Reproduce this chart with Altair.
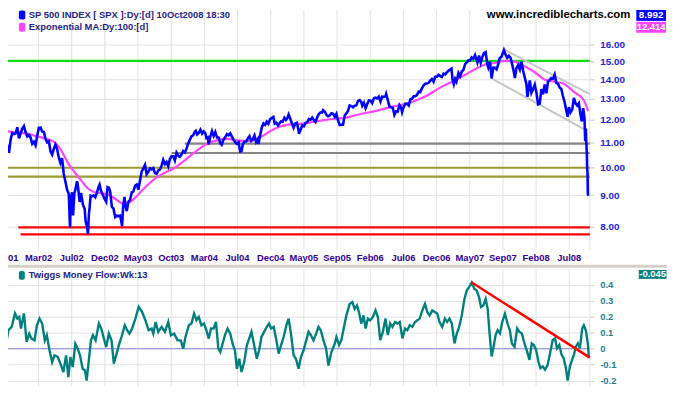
import altair as alt
import pandas as pd

# ---------------- data ----------------
TICK_BARS = [4, 104, 204, 304, 404, 504, 604, 704, 804, 904, 1004, 1104, 1204, 1304, 1404, 1504, 1604, 1704]
TICK_LABELS = ["Oct01", "Mar02", "Jul02", "Dec02", "May03", "Oct03", "Mar04", "Jul04", "Dec04",
               "May05", "Sep05", "Feb06", "Jul06", "Dec06", "May07", "Sep07", "Feb08", "Jul08"]
PRICE_TICKS = [8, 9, 10, 11, 12, 13, 14, 15, 16]
TMF_TICKS = [-0.2, -0.1, 0, 0.1, 0.2, 0.3, 0.4]

PRICE_BAR = [0, 5, 10, 15, 20, 25, 30, 35, 40, 45,
             50, 55, 60, 65, 70, 75, 80, 85, 90, 95,
             100, 105, 110, 115, 120, 125, 130, 135, 140, 145,
             150, 155, 160, 165, 170, 175, 180, 185, 190, 195,
             196, 198, 199, 200, 203, 205, 208, 212, 215, 220,
             222, 228, 232, 238, 243, 246, 250, 253, 256, 258,
             261, 265, 270, 275, 280, 285, 288, 292, 297, 302,
             308, 312, 316, 320, 325, 330, 335, 340, 345, 350,
             356, 359, 363, 366, 370, 375, 380, 385, 390, 395,
             400, 405, 410, 415, 420, 425, 430, 435, 440, 445,
             450, 455, 460, 465, 470, 475, 480, 485, 490, 495,
             500, 505, 510, 515, 520, 525, 530, 535, 540, 545,
             550, 555, 560, 565, 570, 575, 578, 582, 587, 592,
             597, 602, 607, 610, 614, 617, 622, 627, 632, 637,
             642, 647, 652, 656, 662, 667, 672, 677, 682, 687,
             692, 697, 702, 707, 712, 716, 720, 725, 730, 735,
             740, 745, 750, 755, 760, 765, 767, 772, 777, 782,
             787, 792, 797, 802, 807, 812, 816, 821, 826, 830,
             835, 840, 845, 850, 855, 858, 863, 868, 873, 878,
             883, 888, 889, 894, 899, 904, 909, 914, 919, 924,
             929, 934, 939, 944, 949, 954, 959, 962, 967, 972,
             977, 982, 987, 992, 997, 1002, 1007, 1012, 1017, 1022,
             1027, 1032, 1037, 1042, 1047, 1052, 1057, 1062, 1067, 1072,
             1077, 1080, 1085, 1090, 1095, 1100, 1105, 1110, 1115, 1120,
             1125, 1130, 1135, 1140, 1145, 1150, 1152, 1157, 1162, 1167,
             1172, 1177, 1182, 1187, 1192, 1197, 1200, 1205, 1210, 1215,
             1220, 1225, 1230, 1235, 1240, 1245, 1250, 1255, 1260, 1265,
             1270, 1275, 1280, 1285, 1290, 1295, 1300, 1305, 1310, 1315,
             1320, 1325, 1330, 1335, 1340, 1345, 1349, 1352, 1356, 1360,
             1364, 1370, 1375, 1380, 1385, 1390, 1395, 1400, 1405, 1410,
             1415, 1420, 1423, 1427, 1432, 1437, 1442, 1447, 1452, 1457,
             1460, 1465, 1470, 1475, 1480, 1485, 1490, 1494, 1500, 1507,
             1512, 1517, 1522, 1527, 1532, 1537, 1540, 1545, 1550, 1555,
             1560, 1565, 1570, 1575, 1578, 1582, 1585, 1590, 1595, 1600,
             1605, 1610, 1615, 1620, 1625, 1630, 1635, 1640, 1645, 1650,
             1655, 1660, 1665, 1670, 1675, 1680, 1685, 1690, 1695, 1699,
             1703, 1708, 1713, 1718, 1723, 1728, 1733, 1738, 1742, 1746,
             1750, 1752, 1754, 1755, 1757, 1758, 1759, 1760, 1761]
PRICE_VAL = [10.90, 10.77, 10.85, 10.59, 11.15, 11.42, 11.37, 11.40, 11.67, 11.19,
             11.40, 11.61, 11.72, 11.45, 11.27, 11.33, 11.22, 10.96, 11.04, 10.89,
             11.31, 11.64, 11.66, 11.48, 11.46, 11.17, 11.02, 11.07, 10.65, 10.52,
             10.74, 10.92, 10.74, 10.40, 10.19, 10.37, 9.77, 9.49, 9.20, 9.06,
             8.81, 8.20, 7.97, 8.43, 8.98, 9.11, 8.34, 9.08, 9.20, 9.50,
             9.40, 8.78, 9.09, 8.69, 8.55, 8.15, 8.00, 7.77, 8.41, 8.60,
             8.99, 8.97, 9.00, 8.94, 9.10, 9.30, 9.38, 9.17, 9.04, 8.91,
             8.79, 9.29, 9.27, 9.14, 8.62, 8.56, 8.29, 8.34, 8.32, 8.34,
             8.01, 8.62, 8.95, 8.64, 8.48, 8.79, 8.85, 9.11, 9.14, 9.34,
             9.38, 9.20, 9.53, 9.86, 9.98, 10.11, 9.76, 9.85, 9.98, 9.94,
             9.99, 9.80, 9.77, 9.90, 9.93, 10.08, 10.31, 10.14, 10.22, 10.06,
             10.34, 10.45, 10.45, 10.28, 10.59, 10.47, 10.43, 10.52, 10.66, 10.60,
             10.75, 10.96, 11.12, 11.27, 11.31, 11.47, 11.51, 11.35, 11.42, 11.56,
             11.39, 11.49, 11.40, 11.20, 11.23, 10.93, 11.27, 11.50, 11.29, 11.46,
             11.22, 11.22, 10.97, 10.91, 11.14, 11.24, 11.37, 11.32, 11.40, 11.26,
             11.12, 11.02, 10.96, 11.02, 10.64, 10.65, 10.94, 11.05, 11.05, 11.18,
             11.28, 11.08, 11.15, 11.31, 11.03, 11.15, 10.95, 11.31, 11.66, 11.84,
             11.77, 11.92, 11.82, 12.03, 12.09, 12.14, 11.83, 11.87, 11.75, 11.84,
             11.93, 11.92, 12.10, 12.00, 12.10, 12.25, 12.06, 11.83, 11.65, 11.84,
             11.87, 11.52, 11.38, 11.56, 11.75, 11.71, 11.86, 11.90, 12.04, 12.01,
             12.11, 12.00, 11.91, 12.11, 12.27, 12.34, 12.34, 12.45, 12.38, 12.23,
             12.17, 12.20, 12.31, 12.28, 12.14, 12.28, 11.97, 11.77, 11.78, 11.78,
             12.20, 12.30, 12.42, 12.68, 12.65, 12.59, 12.67, 12.68, 12.89, 12.94,
             12.85, 12.66, 12.81, 12.55, 12.75, 12.92, 12.91, 12.79, 13.03, 13.06,
             13.02, 13.11, 12.87, 13.11, 13.10, 13.13, 13.25, 12.94, 12.62, 12.59,
             12.56, 12.23, 12.40, 12.39, 12.70, 12.58, 12.36, 12.61, 12.77, 12.76,
             12.68, 12.97, 13.01, 13.13, 13.13, 13.20, 13.37, 13.34, 13.54, 13.69,
             13.77, 13.78, 13.82, 13.93, 14.02, 13.88, 14.14, 14.14, 14.25, 14.18,
             14.13, 14.31, 14.27, 14.38, 14.47, 14.54, 14.59, 13.99, 13.74, 14.02,
             13.88, 14.35, 14.17, 14.43, 14.52, 14.84, 14.94, 15.05, 15.05, 15.22,
             15.15, 15.36, 15.17, 14.93, 15.33, 14.92, 15.25, 15.47, 15.53, 14.82,
             14.65, 14.98, 14.06, 14.64, 14.63, 14.54, 14.84, 15.18, 15.27, 15.65,
             15.38, 15.20, 15.32, 15.20, 14.81, 14.40, 14.07, 14.63, 14.78, 14.54,
             14.97, 14.47, 14.09, 13.74, 13.10, 13.54, 13.95, 13.31, 13.49, 13.72,
             13.31, 12.73, 12.77, 13.49, 13.23, 13.73, 13.28, 13.88, 13.97, 14.07,
             14.04, 14.26, 13.81, 13.77, 13.58, 13.50, 13.14, 12.85, 12.44, 12.14,
             12.60, 12.35, 12.49, 13.05, 12.78, 12.67, 12.78, 12.24, 11.93, 12.55,
             12.09, 11.06, 11.61, 11.14, 10.56, 9.96, 9.85, 9.10, 8.99]

EMA_BAR = [0, 28, 63, 98, 127, 152, 167, 182, 197, 212,
           232, 251, 271, 296, 316, 336, 358, 381, 406, 430,
           455, 485, 515, 545, 575, 605, 635, 674, 714, 744,
           774, 803, 833, 863, 893, 923, 953, 982, 1022, 1072,
           1122, 1171, 1221, 1271, 1320, 1370, 1400, 1420, 1450, 1480,
           1510, 1540, 1569, 1599, 1629, 1659, 1689, 1718, 1748, 1761]
EMA_VAL = [11.52, 11.44, 11.40, 11.28, 11.16, 11.02, 10.80, 10.45, 10.10, 9.84,
           9.54, 9.26, 9.12, 9.07, 9.02, 8.88, 8.73, 8.79, 9.05, 9.34,
           9.60, 9.81, 10.00, 10.29, 10.61, 10.90, 11.08, 11.16, 11.08, 11.08,
           11.24, 11.50, 11.70, 11.80, 11.82, 11.88, 11.96, 12.03, 12.08, 12.26,
           12.42, 12.62, 12.80, 13.13, 13.62, 14.05, 14.35, 14.55, 14.82, 14.90,
           15.02, 14.98, 14.72, 14.40, 14.00, 13.88, 13.76, 13.35, 12.92, 12.41]

TMF_BAR = [0, 8, 13, 23, 33, 40, 46, 51, 60, 68,
           76, 83, 92, 99, 107, 115, 123, 129, 137, 145,
           152, 162, 172, 179, 187, 194, 200, 207, 215, 222,
           229, 237, 244, 249, 255, 262, 268, 276, 286, 293,
           301, 308, 316, 324, 331, 338, 346, 354, 364, 371,
           378, 386, 396, 406, 416, 426, 436, 445, 450, 457,
           465, 475, 485, 495, 503, 513, 523, 533, 540, 547,
           557, 565, 573, 580, 587, 595, 603, 610, 617, 624,
           632, 639, 646, 652, 659, 666, 674, 682, 689, 696,
           702, 709, 716, 724, 732, 739, 746, 754, 762, 769,
           776, 784, 792, 799, 805, 813, 821, 828, 835, 843,
           851, 858, 865, 873, 880, 888, 895, 903, 911, 918,
           925, 933, 941, 948, 955, 963, 971, 978, 987, 997,
           1002, 1010, 1017, 1024, 1032, 1042, 1050, 1057, 1064, 1070,
           1077, 1084, 1090, 1097, 1104, 1112, 1120, 1127, 1134, 1142,
           1150, 1157, 1164, 1171, 1179, 1186, 1193, 1201, 1209, 1216,
           1223, 1231, 1239, 1246, 1253, 1261, 1269, 1276, 1283, 1291,
           1299, 1306, 1313, 1321, 1329, 1336, 1343, 1350, 1358, 1365,
           1372, 1380, 1388, 1395, 1402, 1410, 1418, 1425, 1432, 1438,
           1445, 1452, 1458, 1465, 1470, 1475, 1482, 1488, 1495, 1502,
           1510, 1518, 1525, 1531, 1539, 1547, 1554, 1561, 1569, 1577,
           1584, 1591, 1597, 1604, 1611, 1617, 1624, 1631, 1639, 1647,
           1654, 1661, 1667, 1674, 1681, 1687, 1694, 1699, 1706, 1711,
           1718, 1724, 1730, 1736, 1743, 1748, 1754, 1760, 1763]
TMF_VAL = [0.084, 0.052, 0.115, 0.136, 0.220, 0.188, 0.199, 0.126, 0.220, 0.042,
           0.094, 0.063, 0.052, 0.146, 0.188, 0.157, 0.052, 0.084, -0.010, -0.084,
           -0.042, -0.052, -0.105, -0.146, -0.042, -0.178, -0.052, -0.115, 0.031, 0.000,
           -0.042, -0.126, -0.136, -0.199, -0.084, 0.052, 0.084, 0.052, 0.157, 0.126,
           0.063, 0.010, 0.094, 0.052, -0.094, -0.042, 0.021, 0.073, 0.146, 0.115,
           0.094, 0.126, 0.188, 0.262, 0.230, 0.178, 0.115, 0.126, 0.094, 0.167,
           0.105, 0.136, 0.105, 0.167, 0.084, 0.094, 0.052, 0.052, 0.000, 0.073,
           0.146, 0.157, 0.220, 0.178, 0.199, 0.146, 0.157, 0.115, 0.063, 0.126,
           0.126, 0.167, 0.000, -0.021, 0.031, 0.084, 0.126, 0.094, 0.031, -0.010,
           -0.126, -0.063, -0.146, -0.084, 0.021, 0.063, 0.105, 0.021, -0.063, -0.010,
           0.073, 0.105, 0.136, 0.157, 0.126, 0.136, 0.052, -0.031, 0.021, 0.073,
           0.146, 0.188, 0.094, -0.042, -0.063, -0.126, -0.052, -0.010, 0.052, 0.105,
           0.084, 0.052, 0.094, 0.136, 0.115, 0.052, 0.000, -0.105, -0.021, 0.031,
           0.073, 0.023, 0.054, 0.126, 0.208, 0.280, 0.291, 0.249, 0.270, 0.229,
           0.157, 0.208, 0.126, 0.188, 0.177, 0.198, 0.239, 0.198, 0.054, 0.105,
           0.188, 0.085, 0.157, 0.136, 0.167, 0.157, 0.167, 0.064, 0.126, 0.115,
           0.146, 0.136, 0.167, 0.177, 0.188, 0.239, 0.280, 0.229, 0.208, 0.239,
           0.229, 0.219, 0.167, 0.136, 0.188, 0.167, 0.188, 0.157, 0.033, 0.095,
           0.136, 0.208, 0.311, 0.363, 0.384, 0.414, 0.373, 0.363, 0.322, 0.260,
           0.270, 0.311, 0.249, 0.064, -0.049, 0.002, 0.085, 0.115, 0.095, 0.167,
           0.219, 0.157, 0.115, 0.033, 0.012, 0.126, 0.105, 0.095, 0.033, -0.019,
           -0.070, 0.033, 0.023, -0.008, -0.080, -0.122, -0.111, -0.132, -0.101, -0.019,
           0.054, 0.064, 0.002, 0.023, -0.039, -0.060, -0.122, -0.200, -0.111, -0.080,
           -0.039, 0.012, 0.033, 0.002, 0.126, 0.146, 0.115, 0.033, -0.045]

# horizontal support / resistance lines (value, first bar, last bar, kind)
LEVEL_VAL = [15.02, 10.96, 10.58, 10.00, 9.67, 7.97, 7.76]
LEVEL_START = [0, 545, 505, 0, 0, 43, 50]
LEVEL_END = [1766, 1766, 1766, 1766, 1766, 1766, 1766]
LEVEL_KIND = ["resistance", "gap", "gap", "support", "support", "low", "low"]

# falling price channel
CHAN_ID = ["upper", "upper", "lower", "lower"]
CHAN_BAR = [1509, 1766, 1467, 1758]
CHAN_VAL = [15.67, 13.24, 14.08, 11.51]

# money-flow trend line
TREND_BAR = [1410, 1766]
TREND_VAL = [0.414, -0.056]

LEGEND_PRICE = "SP 500 INDEX [ SPX ]:Dy:[d]  10Oct2008 18:30"
LEGEND_EMA = "Exponential MA:Dy:100:[d]"
LEGEND_TMF = "Twiggs Money Flow:Wk:13"
SITE = "www.incrediblecharts.com"
LAST_PRICE = "8.992"
LAST_EMA = "12.414"
LAST_TMF = "-0.045"

assert len(PRICE_BAR) == len(PRICE_VAL)
assert len(EMA_BAR) == len(EMA_VAL)
assert len(TMF_BAR) == len(TMF_VAL)

# ---------------- styling / scales ----------------
FONT = "Liberation Sans"
GRID = "#e1e1e1"

W, H = 588, 380
XS = alt.Scale(domain=[0, 1766], range=[-4, W], nice=False, zero=False)


def X(f):
    return alt.X(f, type="quantitative", scale=XS, axis=None)


YS_TOP = alt.Scale(type="log", domain=[8, 16], range=[218.7, 34.7], nice=False, zero=False)
YAX_TOP = alt.Axis(orient="right", values=PRICE_TICKS, format=".2f", grid=True, gridColor=GRID,
                   gridWidth=1, domain=False, ticks=True, tickSize=4, tickColor="#cfcfcf",
                   labelPadding=6, labelFont=FONT, labelFontWeight="bold", labelFontSize=10,
                   labelColor="#2323d8", labelFlush=False, labelOverlap=False, title=None)


def YT(f):
    return alt.Y(f, type="quantitative", scale=YS_TOP, axis=YAX_TOP)


YS_BOT = alt.Scale(domain=[-0.2, 0.4], range=[374.6, 277.6], nice=False, zero=False)
YAX_BOT = alt.Axis(orient="right", values=TMF_TICKS,
                   labelExpr="toString(round(datum.value * 10) / 10)", grid=True, gridColor=GRID,
                   gridWidth=1, domain=False, ticks=True, tickSize=4, tickColor="#cfcfcf",
                   labelPadding=6, labelFont=FONT, labelFontWeight="bold", labelFontSize=9.5,
                   labelColor="#1f7f92", labelFlush=False, labelOverlap=False, title=None)


def YB(f):
    return alt.Y(f, type="quantitative", scale=YS_BOT, axis=YAX_BOT)


ticks_df = pd.DataFrame({"bar": TICK_BARS, "label": TICK_LABELS})
price_df = pd.DataFrame({"bar": PRICE_BAR, "value": PRICE_VAL})
ema_df = pd.DataFrame({"bar": EMA_BAR, "value": EMA_VAL})
tmf_df = pd.DataFrame({"bar": TMF_BAR, "value": TMF_VAL})
lvl_df = pd.DataFrame({"value": LEVEL_VAL, "start": LEVEL_START, "end": LEVEL_END, "kind": LEVEL_KIND})
chan_df = pd.DataFrame({"id": CHAN_ID, "bar": CHAN_BAR, "value": CHAN_VAL})
trend_df = pd.DataFrame({"bar": TREND_BAR, "value": TREND_VAL})
zero_df = pd.DataFrame({"value": [0]})
one = pd.DataFrame({"k": [0]})

# ---------------- top panel ----------------
vgrid_top = alt.Chart(ticks_df).mark_rule(color=GRID, strokeWidth=1).encode(
    x=X("bar"), y=alt.value(0), y2=alt.value(242))
edge_top = alt.Chart(one).mark_rule(color=GRID, strokeWidth=1).encode(
    x=alt.value(W), y=alt.value(0), y2=alt.value(242))
levels = alt.Chart(lvl_df).mark_rule(strokeWidth=2.2).encode(
    x=X("start"), x2="end", y=YT("value"),
    color=alt.Color("kind:N", legend=None,
                    scale=alt.Scale(domain=["resistance", "gap", "support", "low"],
                                    range=["#11dd11", "#858585", "#9c9c33", "#ff0000"])))
channel = alt.Chart(chan_df).mark_line(color="#c6c6c6", strokeWidth=2).encode(
    x=X("bar"), y=YT("value"), detail="id:N")
ema = alt.Chart(ema_df).mark_line(color="#ff44ff", strokeWidth=2.2, interpolate="monotone").encode(
    x=X("bar"), y=YT("value"))
price = alt.Chart(price_df).mark_line(color="#0000ff", strokeWidth=2.6).encode(
    x=X("bar"), y=YT("value"))
top = alt.layer(vgrid_top, edge_top, levels, channel, ema, price)

# ---------------- bottom panel ----------------
vgrid_bot = alt.Chart(ticks_df).mark_rule(color=GRID, strokeWidth=1).encode(
    x=X("bar"), y=alt.value(262), y2=alt.value(380))
edge_bot = alt.Chart(one).mark_rule(color=GRID, strokeWidth=1).encode(
    x=alt.value(W), y=alt.value(262), y2=alt.value(380))
zero = alt.Chart(zero_df).mark_rule(color="#9d9dd8", strokeWidth=1.3).encode(y=YB("value"))
tmf = alt.Chart(tmf_df).mark_line(color="#007f7f", strokeWidth=2.4).encode(
    x=X("bar"), y=YB("value"))
trend = alt.Chart(trend_df).mark_line(color="#ff0000", strokeWidth=2.4).encode(
    x=X("bar"), y=YB("value"))
bottom = alt.layer(vgrid_bot, edge_bot, zero, tmf, trend)

# ---------------- date labels between the panels ----------------
date_labels = alt.Chart(ticks_df).mark_text(
    align="center", baseline="middle", font=FONT, fontWeight="bold", fontSize=9.5, color="#330099"
).encode(x=X("bar"), y=alt.value(250.7), text="label:N")

# ---------------- annotations ----------------
sep = alt.Chart(one).mark_rule(color="#d4d0c8", strokeWidth=3).encode(
    x=alt.value(0), x2=alt.value(667), y=alt.value(259))


def box(x1, x2, y1, y2, color, r=0):
    return alt.Chart(one).mark_rect(color=color, cornerRadius=r).encode(
        x=alt.value(x1), x2=alt.value(x2), y=alt.value(y1), y2=alt.value(y2))


def label(txt, x, y, color, size, align="left", weight="bold"):
    return alt.Chart(pd.DataFrame({"t": [txt]})).mark_text(
        align=align, baseline="middle", font=FONT, fontWeight=weight, fontSize=size, color=color
    ).encode(x=alt.value(x), y=alt.value(y), text="t:N")


legend_col = "#23238c"
ann = [
    sep, date_labels,
    box(11, 17.5, 0.5, 9.5, "#0000ff", 2), label(LEGEND_PRICE, 21, 5, legend_col, 9.5),
    box(11, 17.5, 13, 22, "#ff44ff", 2), label(LEGEND_EMA, 21, 17.5, legend_col, 9.5),
    label(SITE, 629, 5.5, "#000000", 11.5, align="right"),
    box(635, 665, 0, 11, "#0000ff"), label(LAST_PRICE, 650, 5.5, "#ffffff", 10, align="center"),
    box(635, 665, 12, 23, "#ff44ff"), label(LAST_EMA, 650, 17.5, "#ffffff", 9.5, align="center"),
    box(11, 17, 263.7, 272.7, "#007f7f", 2), label(LEGEND_TMF, 21, 268, legend_col, 9.5),
    box(637.5, 665.5, 262.7, 271.7, "#007f7f"), label(LAST_TMF, 651.5, 267.2, "#ffffff", 9.5, align="center"),
]

chart = alt.layer(top, bottom, *ann).resolve_scale(y="independent").properties(
    width=W, height=H,
    autosize=alt.AutoSizeParams(type="none"),
    padding={"left": 0, "top": 0, "right": 78, "bottom": 0},
    background="white",
).configure_view(stroke=None)

chart.save("out.html", embed_options={"renderer": "svg", "actions": False})
